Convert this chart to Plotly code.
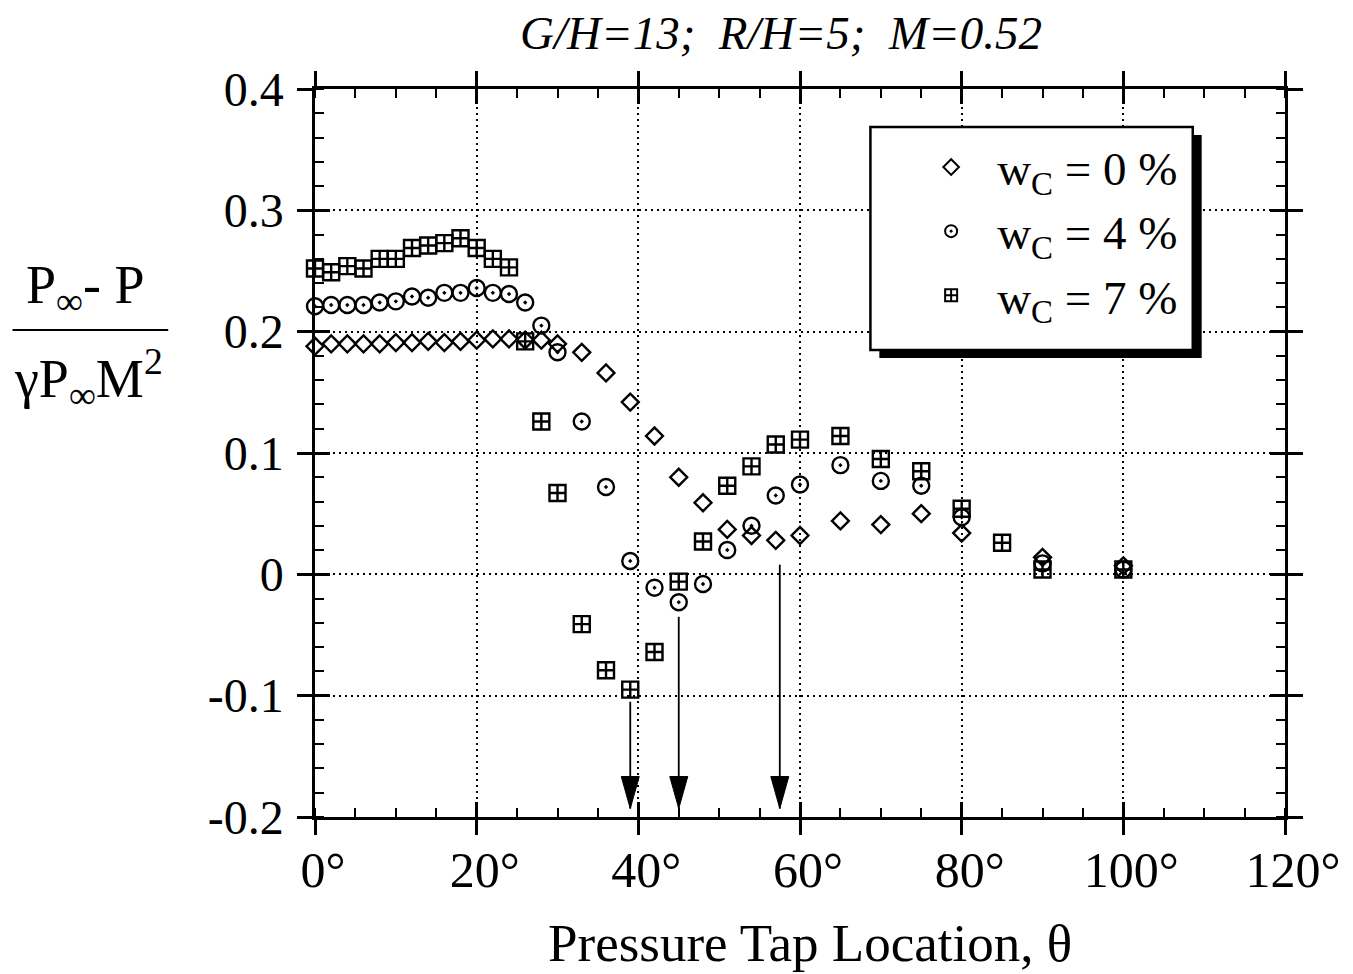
import plotly.graph_objects as go

# Pressure tap locations (degrees) and pressure coefficients for each bleed rate
theta_w0 = [0, 2, 4, 6, 8, 10, 12, 14, 16, 18, 20, 22, 24, 26, 28, 30,
            33, 36, 39, 42, 45, 48, 51, 54, 57, 60, 65, 70, 75, 80, 90, 100]
cp_w0 = [0.188, 0.190, 0.190, 0.190, 0.190, 0.191, 0.191, 0.192, 0.191, 0.192,
         0.193, 0.194, 0.194, 0.193, 0.193, 0.190, 0.183, 0.166, 0.142, 0.114,
         0.080, 0.059, 0.037, 0.032, 0.028, 0.032, 0.044, 0.041, 0.050, 0.034,
         0.014, 0.007]

theta_w4 = [0, 2, 4, 6, 8, 10, 12, 14, 16, 18, 20, 22, 24, 26, 28, 30,
            33, 36, 39, 42, 45, 48, 51, 54, 57, 60, 65, 70, 75, 80, 90, 100]
cp_w4 = [0.221, 0.222, 0.222, 0.222, 0.224, 0.225, 0.229, 0.228, 0.232, 0.232,
         0.236, 0.232, 0.231, 0.224, 0.205, 0.183, 0.126, 0.072, 0.011, -0.011,
         -0.023, -0.008, 0.020, 0.040, 0.065, 0.074, 0.090, 0.077, 0.073, 0.047,
         0.009, 0.004]

theta_w7 = [0, 2, 4, 6, 8, 10, 12, 14, 16, 18, 20, 22, 24, 26, 28, 30,
            33, 36, 39, 42, 45, 48, 51, 54, 57, 60, 65, 70, 75, 80, 85, 90, 100]
cp_w7 = [0.252, 0.249, 0.254, 0.252, 0.260, 0.260, 0.269, 0.271, 0.273, 0.277,
         0.269, 0.260, 0.253, 0.192, 0.126, 0.067, -0.041, -0.079, -0.095, -0.064,
         -0.006, 0.027, 0.073, 0.089, 0.107, 0.111, 0.114, 0.095, 0.085, 0.054,
         0.026, 0.004, 0.004]

series_names = ["w<sub>C</sub> = 0 %", "w<sub>C</sub> = 4 %", "w<sub>C</sub> = 7 %"]

# Arrows marking the minimum-pressure locations
arrow_theta = [39, 45, 57.5]
arrow_from = [-0.105, -0.035, 0.008]
arrow_to = [-0.193, -0.193, -0.193]

x_tick_vals = [0, 20, 40, 60, 80, 100, 120]
x_tick_text = ["0°", "20°", "40°", "60°", "80°", "100°", "120°"]
y_tick_vals = [-0.2, -0.1, 0, 0.1, 0.2, 0.3, 0.4]
y_tick_text = ["-0.2", "-0.1", "0", "0.1", "0.2", "0.3", "0.4"]

SERIF = "Liberation Serif"
INK = "black"

# plot-area geometry (pixels)
L, R, T, B = 315, 60, 89, 157
W, H = 1353, 974
PW, PH = W - L - R, H - T - B


def px_x(px):
    return (px - L) / PW


def px_y(py):
    return (H - B - py) / PH


fig = go.Figure()

marker_styles = [
    dict(symbol="diamond-open", size=13),
    dict(symbol="circle-open-dot", size=16),
    dict(symbol="square-cross-open", size=16),
]
for name, xs, ys, ms in zip(series_names, [theta_w0, theta_w4, theta_w7],
                            [cp_w0, cp_w4, cp_w7], marker_styles):
    fig.add_trace(go.Scatter(
        x=xs, y=ys, mode="markers", name=name, legendgroup=name,
        cliponaxis=False,
        marker=dict(symbol=ms["symbol"], size=ms["size"], color=INK,
                    line=dict(color=INK, width=2.4)),
    ))

# empty trace so the overlay axes (inner halves of the major ticks) are drawn
fig.add_trace(go.Scatter(x=[], y=[], xaxis="x2", yaxis="y2", showlegend=False,
                         hoverinfo="skip"))

shapes = []
# legend box with drop shadow
bx0, bx1 = px_x(875), px_x(1200)
by0, by1 = px_y(350), px_y(127)
sdx, sdy = 9 / PW, 8 / PH
shapes.append(dict(type="rect", xref="paper", yref="paper",
                   x0=bx0 + sdx, x1=bx1 + sdx, y0=by0 - sdy, y1=by1 - sdy,
                   fillcolor=INK, line=dict(width=0), layer="above"))
shapes.append(dict(type="rect", xref="paper", yref="paper",
                   x0=bx0, x1=bx1, y0=by0, y1=by1,
                   fillcolor="white", line=dict(color=INK, width=2.5), layer="above"))
# arrows
for th, y_from, y_to in zip(arrow_theta, arrow_from, arrow_to):
    shapes.append(dict(type="line", xref="x", yref="y", x0=th, x1=th,
                       y0=y_from, y1=y_to, line=dict(color=INK, width=1.8),
                       layer="above"))
    shapes.append(dict(type="path", xref="x", yref="y",
                       xsizemode="pixel", ysizemode="pixel",
                       xanchor=th, yanchor=y_to,
                       path="M -9,32 L 9,32 L 0,0 Z",
                       fillcolor=INK, line=dict(color=INK, width=1),
                       layer="above"))
# fraction bar of the y-axis title
shapes.append(dict(type="line", xref="paper", yref="paper",
                   x0=px_x(10), x1=px_x(167), y0=px_y(330), y1=px_y(330),
                   line=dict(color=INK, width=2)))

annotations = [
    dict(text="<i>G/H=13;\u00a0\u00a0R/H=5;\u00a0\u00a0M=0.52</i>",
         xref="paper", yref="paper", x=px_x(785), y=px_y(33),
         xanchor="center", yanchor="middle", showarrow=False,
         font=dict(family=SERIF, size=47, color=INK)),
    dict(text="Pressure Tap Location, θ",
         xref="paper", yref="paper", x=px_x(814), y=px_y(943),
         xanchor="center", yanchor="middle", showarrow=False,
         font=dict(family=SERIF, size=53, color=INK)),
    dict(text="P<sub>∞</sub>- P",
         xref="paper", yref="paper", x=px_x(84), y=px_y(324),
         xanchor="center", yanchor="bottom", showarrow=False,
         font=dict(family=SERIF, size=54, color=INK)),
    dict(text="γP<sub>∞</sub>M<sup>2</sup>",
         xref="paper", yref="paper", x=px_x(87), y=px_y(338),
         xanchor="center", yanchor="top", showarrow=False,
         font=dict(family=SERIF, size=54, color=INK)),
]

axis_common = dict(showline=True, linecolor=INK, linewidth=2.5, mirror="allticks",
                   ticks="outside", ticklen=15, tickwidth=2.5, tickcolor=INK,
                   showgrid=True, gridcolor=INK, gridwidth=2, griddash="2px,4px",
                   zeroline=False)

fig.update_layout(
    width=W, height=H, autosize=False,
    margin=dict(l=L, r=R, t=T, b=B, pad=0),
    paper_bgcolor="white", plot_bgcolor="white",
    showlegend=True,
    legend=dict(x=px_x(910), y=px_y(130), xanchor="left", yanchor="top",
                bgcolor="rgba(0,0,0,0)", borderwidth=0,
                font=dict(family=SERIF, size=47, color=INK),
                itemsizing="constant", itemwidth=82, tracegroupgap=0),
    xaxis=dict(range=[0, 120], tickmode="array", tickvals=x_tick_vals,
               ticktext=x_tick_text, ticklabelshift=8, ticklabelstandoff=-8,
               tickfont=dict(family=SERIF, size=50, color=INK),
               minor=dict(tickmode="linear", tick0=0, dtick=5, ticks="inside",
                          ticklen=9, tickwidth=2, tickcolor=INK, showgrid=False),
               **axis_common),
    yaxis=dict(range=[-0.2, 0.4], tickmode="array", tickvals=y_tick_vals,
               ticktext=y_tick_text, ticklabelstandoff=4,
               tickfont=dict(family=SERIF, size=48, color=INK),
               minor=dict(tickmode="linear", tick0=0, dtick=0.02, ticks="inside",
                          ticklen=9, tickwidth=2, tickcolor=INK, showgrid=False),
               **axis_common),
    xaxis2=dict(overlaying="x", range=[0, 120], tickmode="array",
                tickvals=x_tick_vals, ticks="inside", ticklen=15, tickwidth=2.5,
                tickcolor=INK, showticklabels=False, showgrid=False,
                showline=False, zeroline=False, mirror="allticks"),
    yaxis2=dict(overlaying="y", range=[-0.2, 0.4], tickmode="array",
                tickvals=y_tick_vals, ticks="inside", ticklen=15, tickwidth=2.5,
                tickcolor=INK, showticklabels=False, showgrid=False,
                showline=False, zeroline=False, mirror="allticks"),
    shapes=shapes,
    annotations=annotations,
)

fig.write_html("out.html")
